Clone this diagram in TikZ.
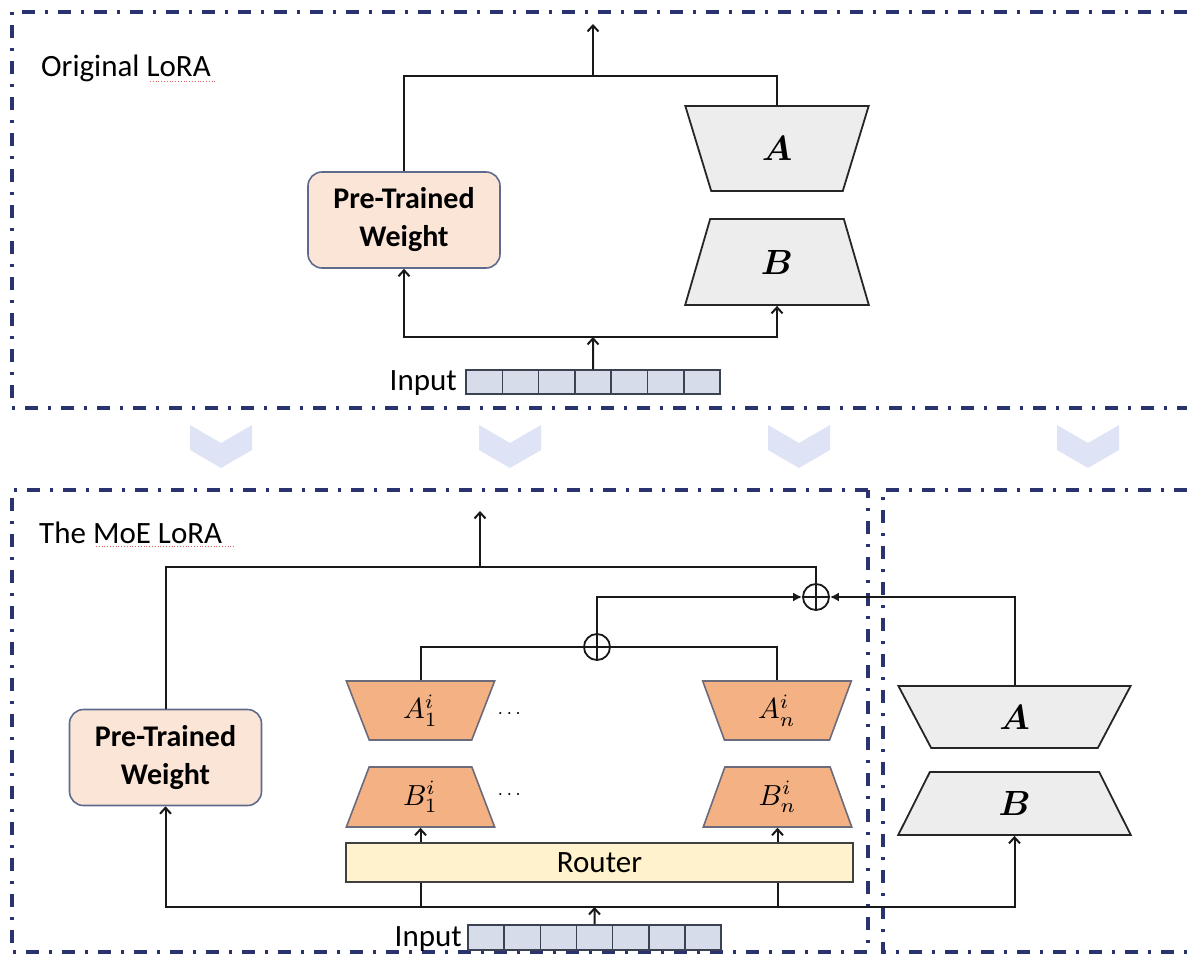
\documentclass[tikz,border=0pt]{standalone}
\usepackage{amsmath}
\usepackage{graphicx}
\usepackage{fontspec}
\setmainfont{Carlito}
\usetikzlibrary{arrows.meta,shapes.geometric,calc}

\definecolor{frame}{HTML}{2B3270}
\definecolor{ptwfill}{HTML}{FBE5D6}
\definecolor{ptwline}{HTML}{5F6B8C}
\definecolor{grayfill}{HTML}{EDEDED}
\definecolor{orangefill}{HTML}{F4B183}
\definecolor{orangeline}{HTML}{6B6B7B}
\definecolor{routerfill}{HTML}{FFF2CC}
\definecolor{cellfill}{HTML}{D6DCE9}
\definecolor{cellline}{HTML}{3B4252}
\definecolor{chevfill}{HTML}{DFE3F6}
\definecolor{squiggle}{HTML}{E06060}

% math letters set at 10pt and enlarged
\newcommand{\bigmat}[1]{\scalebox{3.5}{$\boldsymbol{#1}$}}
\newcommand{\expmat}[1]{\scalebox{2.9}{$#1$}}

\tikzset{
  conn/.style={draw=black!90, line width=2pt},
  arr/.style={conn, -{Straight Barb[length=6pt,width=11pt]}},
  farr/.style={conn, -{Latex[length=9pt,width=9pt]}},
  frameline/.style={draw=frame, line width=3.2pt, dash pattern=on 13pt off 10pt on 3pt off 10pt},
  ptw/.style={rectangle, rounded corners=14pt, draw=ptwline, fill=ptwfill, line width=1.6pt,
    align=center, font=\fontsize{30}{38}\selectfont\bfseries,
    minimum width=192pt, minimum height=96pt, inner sep=0pt},
  trapbase/.style={trapezium, trapezium stretches=true, trapezium left angle=76,
    trapezium right angle=76, inner sep=0pt, font=\fontsize{10}{12}\selectfont},
  gwide/.style={trapbase, shape border rotate=180, draw=black!85, fill=grayfill, line width=1.8pt},
  gnarrow/.style={trapbase, draw=black!85, fill=grayfill, line width=1.8pt},
  owide/.style={trapbase, shape border rotate=180, draw=orangeline, fill=orangefill, line width=1.6pt,
    minimum width=149pt, minimum height=59pt},
  onarrow/.style={trapbase, draw=orangeline, fill=orangefill, line width=1.6pt,
    minimum width=149pt, minimum height=60pt},
  router/.style={rectangle, draw=black!75, fill=routerfill, line width=1.6pt,
    minimum width=507pt, minimum height=39pt, inner sep=0pt, font=\fontsize{31}{36}\selectfont},
  cell/.style={rectangle, draw=cellline, fill=cellfill, line width=1.5pt, inner sep=0pt},
  oplus/.style={circle, draw=black!90, line width=1.8pt, minimum size=26pt, inner sep=0pt,
    path picture={\draw[line width=1.8pt] (path picture bounding box.north) -- (path picture bounding box.south)
      (path picture bounding box.west) -- (path picture bounding box.east);}},
  label/.style={font=\fontsize{31}{36}\selectfont, inner sep=0pt},
  dotsl/.style={font=\fontsize{10}{12}\selectfont, inner sep=0pt},
  chev/.style={fill=chevfill},
}

\begin{document}
\begin{tikzpicture}[x=1pt,y=-1pt]
\useasboundingbox (0,0) rectangle (1187,961);

% ---------- panel frames ----------
\draw[frameline] (1187,12) -- (12,12) -- (12,408) -- (1187,408);
\draw[frameline] (868,490) -- (12,490) -- (12,952) -- (868,952) -- cycle;
\draw[frameline] (1187,490) -- (883,490) -- (883,952) -- (1187,952);

% ---------- chevrons between the panels ----------
\foreach \cx in {221,510,799,1088}
  \fill[chev] ({\cx-31},425) -- (\cx,443) -- ({\cx+31},425) -- ({\cx+31},450)
    -- (\cx,468) -- ({\cx-31},450) -- cycle;

% ---------- upper panel: original LoRA ----------
\node[label, anchor=west] (title1) at (41,68) {Original LoRA};
\draw[squiggle, line width=0.8pt, dotted] (150,81) -- (216,81);

\node[ptw] (ptw1) at (404,220) {Pre-Trained\\Weight};
\node[gwide, minimum width=184pt, minimum height=85pt] (Atop) at (777,148.5) {\bigmat{A}};
\node[gnarrow, minimum width=184pt, minimum height=86pt] (Btop) at (777,262) {\bigmat{B}};

\foreach \i in {1,...,7}
  \node[cell, minimum width=36.3pt, minimum height=24pt] (ct\i) at ({466+36.3*(\i-0.5)},382) {};
\node[label, anchor=east] (in1) at (457,383) {Input};

\coordinate (jt) at (593,76);
\coordinate (ot) at (593,24);
\coordinate (jbt) at (593,337);

\draw[conn] (ptw1.north) |- (jt) -| (Atop.north);
\draw[arr] (jt) -- (ot);
\draw[arr] (jbt) -| (ptw1.south);
\draw[arr] (jbt) -| (Btop.south);
\draw[arr] (ct4.north) -- (jbt);

% ---------- lower panel: MoE LoRA ----------
\node[label, anchor=west] (title2) at (39,533) {The MoE LoRA};
\draw[squiggle, line width=0.8pt, dotted] (96,546) -- (234,546);

\node[ptw] (ptw2) at (165.5,757.5) {Pre-Trained\\Weight};

\node[oplus] (opB) at (816,597) {};
\node[oplus] (opS) at (597,647) {};

\node[owide] (a1) at (420.5,710.5) {\expmat{A_1^i}};
\node[owide] (an) at (777,710.5) {\expmat{A_n^i}};
\node[onarrow] (b1) at (420.5,797) {\expmat{B_1^i}};
\node[onarrow] (bn) at (777.5,797) {\expmat{B_n^i}};
\node[dotsl] (d1) at (511,714) {\scalebox{2}{$\cdots$}};
\node[dotsl] (d2) at (511,795) {\scalebox{2}{$\cdots$}};

\node[router] (rt) at (599.5,862.5) {Router};

\node[gwide, minimum width=233pt, minimum height=62pt] (a2) at (1014.5,717) {\bigmat{A}};
\node[gnarrow, minimum width=233pt, minimum height=63pt] (b2) at (1014.5,803.5) {\bigmat{B}};

\foreach \i in {1,...,7}
  \node[cell, minimum width=36.15pt, minimum height=25pt] (cb\i) at ({468+36.15*(\i-0.5)},937.5) {};
\node[label, anchor=east] (in2) at (462,939) {Input};

\coordinate (jt2) at (480,567);
\coordinate (ot2) at (480,511);
\coordinate (jb2) at (594.5,907);

\draw[conn] (ptw2.north) |- (jt2) -| (opB.north);
\draw[arr] (jt2) -- (ot2);
\draw[farr] (opS.north) |- (opB.west);
\draw[conn] (a1.north) |- (opS.west);
\draw[conn] (an.north) |- (opS.east);
\draw[farr] (a2.north) |- (opB.east);

\draw[conn] (jb2) -| (rt.south -| b1.south);
\draw[conn] (jb2) -| (rt.south -| bn.south);
\draw[arr] (jb2) -| (ptw2.south);
\draw[arr] (jb2) -| (b2.south);
\draw[arr] (rt.north -| b1.south) -- (b1.south);
\draw[arr] (rt.north -| bn.south) -- (bn.south);
\draw[arr] (cb4.north) -- (jb2);
\end{tikzpicture}
\end{document}
